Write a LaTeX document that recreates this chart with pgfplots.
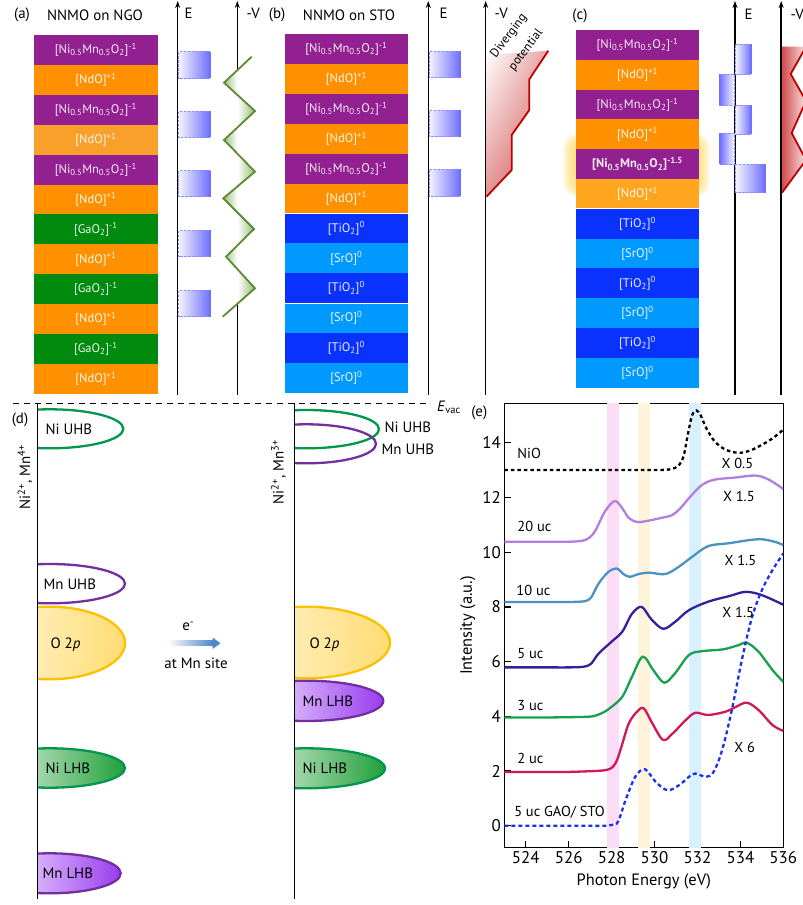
\documentclass[border=0pt]{standalone}
\usepackage{fontspec}
\setmainfont{PT Sans}
\usepackage{pgfplots}
\pgfplotsset{compat=1.18}
\usetikzlibrary{arrows.meta,shadings}

\definecolor{npurple}{HTML}{922090}
\definecolor{norange}{HTML}{FF9100}
\definecolor{norangeL}{HTML}{F9A02A}
\definecolor{norangeG}{HTML}{FFA51E}
\definecolor{ngreen}{HTML}{008A0E}
\definecolor{ntio}{HTML}{0A32FF}
\definecolor{nsro}{HTML}{0099FF}
\definecolor{eboxL}{HTML}{F4F4FF}
\definecolor{eboxR}{HTML}{7070FF}
\definecolor{eboxD}{HTML}{8C8CFF}
\definecolor{zg}{HTML}{5C8A35}
\definecolor{zgf}{HTML}{7FB05A}
\definecolor{rline}{HTML}{C00000}
\definecolor{rfill}{HTML}{D04A4A}
\definecolor{dgreen}{HTML}{00964B}
\definecolor{lgreen}{HTML}{22A03A}
\definecolor{dpurple}{HTML}{7030A0}
\definecolor{lpurple}{HTML}{9A3CF0}
\definecolor{dyellow}{HTML}{FFC000}
\definecolor{arrowblue}{HTML}{4A86C8}
\definecolor{glow}{HTML}{FFD24D}
\definecolor{c20}{HTML}{B07FE0}
\definecolor{c10}{HTML}{4A92C2}
\definecolor{c5}{HTML}{36209A}
\definecolor{c3}{HTML}{16A050}
\definecolor{c2}{HTML}{D0185A}
\definecolor{cgao}{HTML}{1A30F0}
\definecolor{bandpink}{HTML}{FBDDF8}
\definecolor{bandorange}{HTML}{FFF3DC}
\definecolor{bandblue}{HTML}{D9F0FF}

\newcommand{\NNMO}{[Ni\textsubscript{0.5}Mn\textsubscript{0.5}O\textsubscript{2}]\textsuperscript{-1}}
\newcommand{\NNMOb}{\textbf{[Ni\textsubscript{0.5}Mn\textsubscript{0.5}O\textsubscript{2}]\textsuperscript{-1.5}}}
\newcommand{\NdO}{[NdO]\textsuperscript{+1}}
\newcommand{\GaO}{[GaO\textsubscript{2}]\textsuperscript{-1}}
\newcommand{\TiO}{[TiO\textsubscript{2}]\textsuperscript{0}}
\newcommand{\SrO}{[SrO]\textsuperscript{0}}
\newcommand{\labfont}{\fontsize{12.5}{14}\selectfont}
\newcommand{\tfont}{\fontsize{15}{17}\selectfont}
\newcommand{\dfont}{\fontsize{15}{17}\selectfont}

% right box (solid edge at right)
\newcommand{\eboxr}[4]{%
  \shade[left color=eboxL, right color=eboxR] (#1,#3) rectangle (#2,#4);
  \draw[eboxD, line width=0.8bp, dash pattern=on 2.5bp off 1.5bp] (#2,#3) -- (#1,#3) -- (#1,#4) -- (#2,#4);
  \draw[eboxR, line width=1.6bp] (#2,#3) -- (#2,#4);}
% left box (solid edge at left); #1 far-left x, #2 axis x
\newcommand{\eboxl}[4]{%
  \shade[left color=eboxR, right color=eboxL] (#1,#3) rectangle (#2,#4);
  \draw[eboxD, line width=0.8bp, dash pattern=on 2.5bp off 1.5bp] (#1,#3) -- (#2,#3) -- (#2,#4) -- (#1,#4);
  \draw[eboxR, line width=1.6bp] (#1,#3) -- (#1,#4);}

% band ellipse: line x, ytop, ybot, xright, style
\newcommand{\bandE}[5]{%
  \pgfmathsetmacro\cy{(#2+#3)/2}\pgfmathsetmacro\ry{(#3-#2)/2}%
  \pgfmathsetmacro\cx{#1+12}\pgfmathsetmacro\rx{#4-#1-12}%
  \begin{scope}
    \clip (#1,#2-10) rectangle (#4+10,#3+10);
    \path[#5] (\cx,\cy) ellipse [x radius=\rx bp, y radius=\ry bp];
  \end{scope}}

\begin{document}
\begin{tikzpicture}
\begin{scope}[x=1bp,y=-1bp]
\path[use as bounding box] (0,0) rectangle (803,905);

%================ (a) =================
\node[font=\tfont] at (22,15) {(a)};
\node[font=\tfont] at (95,15) {NNMO on NGO};
\foreach \c/\t [count=\i from 0] in {npurple/\NNMO, norange/\NdO, npurple/\NNMO, norangeL/\NdO, npurple/\NNMO, norange/\NdO, ngreen/\GaO, norange/\NdO, ngreen/\GaO, norange/\NdO, ngreen/\GaO, norange/\NdO}{
  \pgfmathsetmacro\yt{35+\i*29.9}
  \fill[\c] (34,\yt) rectangle (157.7,\yt+30.2);
  \node[text=white, opacity=0.92, font=\labfont] at (95.85,\yt+14.95) {\t};
}
\draw[line width=1.5bp, -{Stealth[length=7bp,width=5bp]}] (177.7,395) -- (177.7,1);
\draw[line width=1.5bp, -{Stealth[length=7bp,width=5bp]}] (237.3,395) -- (237.3,1);
\node[font=\tfont, anchor=west] at (181,13) {E};
\node[font=\tfont, anchor=west] at (243,13) {-V};
\eboxr{178.5}{210}{51.7}{78.3}
\eboxr{178.5}{210}{111}{137.3}
\eboxr{178.5}{210}{170.7}{196.7}
\eboxr{178.5}{210}{230}{256.7}
\eboxr{178.5}{210}{290}{316.7}
\begin{scope}
  \clip (237.3,70.2) -- (224,82.7) -- (255,111) -- (224,140) -- (255,171.7) -- (223.3,198.3) -- (254,229) -- (226,256.7) -- (255,288.3) -- (237.3,303.9) -- cycle;
  \shade[left color=zgf, right color=white] (220,50) rectangle (237.3,320);
  \shade[left color=white, right color=zgf] (237.3,50) rectangle (258,320);
\end{scope}
\draw[zg, line width=1.8bp, line join=miter] (251.7,56.7) -- (224,82.7) -- (255,111) -- (224,140) -- (255,171.7) -- (223.3,198.3) -- (254,229) -- (226,256.7) -- (255,288.3) -- (222.7,316.7);

%================ (b) =================
\node[font=\tfont] at (277,15) {(b)};
\node[font=\tfont] at (349,15) {NNMO on STO};
\foreach \c/\t [count=\i from 0] in {npurple/\NNMO, norange/\NdO, npurple/\NNMO, norange/\NdO, npurple/\NNMO, norange/\NdO, ntio/\TiO, nsro/\SrO, ntio/\TiO, nsro/\SrO, ntio/\TiO, nsro/\SrO}{
  \pgfmathsetmacro\yt{34+\i*29.9}
  \fill[\c] (285,\yt) rectangle (407.7,\yt+30.2);
  \node[text=white, opacity=0.92, font=\labfont] at (346.35,\yt+14.95) {\t};
}
\draw[white, line width=1.2bp] (285,213.4) -- (407.7,213.4);
\draw[white, line width=1.2bp] (285,303.1) -- (407.7,303.1);
\draw[line width=1.5bp, -{Stealth[length=7bp,width=5bp]}] (428.3,395) -- (428.3,1);
\draw[line width=1.5bp, -{Stealth[length=7bp,width=5bp]}] (485.7,395) -- (485.7,1);
\node[font=\tfont, anchor=west] at (436,13) {E};
\node[font=\tfont, anchor=west] at (491,13) {-V};
\eboxr{429}{460}{51}{77.7}
\eboxr{429}{460}{110}{136.7}
\eboxr{429}{460}{169.3}{196}
\shade[upper left=white, upper right=rfill!50, lower left=rfill!60, lower right=rfill] (486.5,55) -- (548.3,50.7) -- (529.3,79.3) -- (529.3,110) -- (511.7,135) -- (511.7,170) -- (486.5,196.7) -- cycle;
\draw[rline, line width=1.8bp] (548.3,50.7) -- (529.3,79.3) -- (529.3,110) -- (511.7,135) -- (511.7,170) -- (486.5,196.7);
\node[font=\fontsize{12.5}{14}\selectfont, rotate=53, inner sep=0pt] at (509,36) {Diverging};
\node[font=\fontsize{12.5}{14}\selectfont, rotate=53, inner sep=0pt] at (526,50) {potential};

%================ (c) =================
\node[font=\tfont] at (580,16) {(c)};
\foreach \k in {0,...,7}{
  \fill[glow, opacity=0.13, rounded corners=12bp] (563+\k*1.6,134+\k*1.2) rectangle (710-\k*1.6,196-\k*1.2);
}
\foreach \c/\t [count=\i from 0] in {npurple/\NNMO, norange/\NdO, npurple/\NNMO, norange/\NdO, npurple/\NNMOb, norangeG/\NdO, ntio/\TiO, nsro/\SrO, ntio/\TiO, nsro/\SrO, ntio/\TiO, nsro/\SrO}{
  \pgfmathsetmacro\yt{30+\i*29.8}
  \fill[\c] (576,\yt) rectangle (699,\yt+30.1);
  \node[text=white, opacity=0.92, font=\labfont] at (637.5,\yt+14.9) {\t};
}
\draw[white, line width=1.2bp] (576,208.8) -- (699,208.8);
\draw[line width=1.5bp, -{Stealth[length=7bp,width=5bp]}] (735,395) -- (735,1);
\draw[line width=1.5bp, -{Stealth[length=7bp,width=5bp]}] (781.2,395) -- (781.2,1);
\node[font=\tfont, anchor=west] at (741,14) {E};
\node[font=\tfont, anchor=west] at (787,14) {-V};
\eboxr{735.7}{750.7}{44.3}{74}
\eboxl{719.3}{734.3}{74}{105}
\eboxr{735.7}{750.7}{105}{134.3}
\eboxl{720}{734.3}{133.3}{164.3}
\eboxr{735.7}{765}{164.3}{192.7}
\shade[left color=rfill, right color=rfill!15] (782,46.7) -- (806,46.7) -- (790.7,74) -- (806,101) -- (791.7,133) -- (806,160) -- (782,192.7) -- cycle;
\draw[rline, line width=1.8bp] (806,46.7) -- (790.7,74) -- (806,101) -- (791.7,133) -- (806,160) -- (782,192.7);

%================ (d) =================
\draw[line width=0.9bp, dash pattern=on 6bp off 5bp] (12.7,403.3) -- (428,403.3);
\node[font=\dfont, anchor=west, inner sep=0pt] at (437,407) {\textit{E}\textsubscript{vac}};
\node[font=\tfont] at (20,420) {(d)};
\bandE{37.7}{409.3}{448.3}{123.3}{draw=dgreen, line width=2.3bp, fill=white}
\bandE{37.7}{564}{603.3}{125}{draw=dpurple, line width=2.3bp, fill=white}
\bandE{37.7}{606.7}{679.3}{125}{draw=dyellow, line width=2.3bp, left color=dyellow!12, right color=dyellow!55}
\bandE{37.7}{748.3}{787.7}{125}{draw=dgreen, line width=2.3bp, left color=white, right color=lgreen}
\bandE{37.7}{853.3}{893.3}{120.7}{draw=dpurple, line width=2.3bp, left color=white, right color=lpurple}
\node[font=\dfont, anchor=west] at (42,429) {Ni UHB};
\node[font=\dfont, anchor=west] at (40,584) {Mn UHB};
\node[font=\dfont, anchor=west] at (47,645) {O 2\textit{p}};
\node[font=\dfont, anchor=west] at (42,768) {Ni LHB};
\node[font=\dfont, anchor=west] at (39,873) {Mn LHB};
\draw[line width=1.3bp] (37.7,403.3) -- (37.7,899.3);
\node[font=\dfont, rotate=90] at (25,477) {Ni\textsuperscript{2+}, Mn\textsuperscript{4+}};

\bandE{294.3}{410}{448.3}{379}{draw=dgreen, line width=2.3bp}
\bandE{294.3}{424.3}{463.3}{376}{draw=dpurple, line width=2.3bp}
\bandE{294.3}{606.7}{678.3}{390}{draw=dyellow, line width=2.3bp, left color=dyellow!12, right color=dyellow!55}
\bandE{294.3}{680.7}{721}{383.3}{draw=dpurple, line width=2.3bp, left color=white, right color=lpurple}
\bandE{294.3}{748.3}{788.3}{385}{draw=dgreen, line width=2.3bp, left color=white, right color=lgreen}
\node[font=\dfont, anchor=west] at (381,427) {Ni UHB};
\node[font=\dfont, anchor=west] at (378,449.5) {Mn UHB};
\node[font=\dfont, anchor=west] at (306,645) {O 2\textit{p}};
\node[font=\dfont, anchor=west] at (299,701) {Mn LHB};
\node[font=\dfont, anchor=west] at (299,768) {Ni LHB};
\draw[line width=1.3bp] (294.3,403.3) -- (294.3,899.3);
\node[font=\dfont, rotate=90] at (278.5,472) {Ni\textsuperscript{2+}, Mn\textsuperscript{3+}};

\node[font=\dfont] at (188.3,626) {e\textsuperscript{-}};
\shade[left color=white, right color=arrowblue] (168.3,640.8) rectangle (213,645.8);
\fill[arrowblue] (212.5,637.5) -- (220.5,643.3) -- (212.5,649.1) -- cycle;
\node[font=\dfont] at (196,663.3) {at Mn site};
\node[font=\tfont] at (479.3,413.3) {(e)};
\end{scope}

%================ (e) =================
\begin{axis}[
  at={(504.3bp,-847.7bp)}, anchor=south west,
  scale only axis, width=279bp, height=444.4bp,
  xmin=523, xmax=536, ymin=-0.8, ymax=15.44,
  xtick={524,526,...,536}, ytick={0,2,...,14},
  tick align=inside, xtick pos=bottom, ytick pos=left,
  major tick length=7bp,
  axis line style={line width=1.3bp},
  tick style={line width=1.2bp, black},
  ticklabel style={font=\fontsize{17}{19}\selectfont},
  /pgf/number format/assume math mode=true,
  /pgf/number format/1000 sep={},
  xlabel={Photon Energy (eV)}, ylabel={Intensity (a.u.)},
  label style={font=\fontsize{16.5}{19}\selectfont},
  xlabel style={yshift=-3bp},
  every axis plot/.append style={line width=2.3bp, smooth, tension=0.55, mark=none},
  clip=true,
]
\fill[bandpink] (axis cs:527.8,-0.8) rectangle (axis cs:528.35,15.44);
\fill[bandorange] (axis cs:529.25,-0.8) rectangle (axis cs:529.8,15.44);
\fill[bandblue] (axis cs:531.6,-0.8) rectangle (axis cs:532.15,15.44);

\addplot[black, dash pattern=on 3.5bp off 3bp] coordinates {(523,13.0)(524,13.0)(525,13.0)(526,13.0)(527,13.0)(528,13.0)(529,13.0)(530,13.0)(530.5,13.01)(530.8,13.04)(531.1,13.15)(531.35,13.5)(531.55,14.3)(531.75,15.0)(531.95,15.18)(532.15,15.0)(532.4,14.55)(532.8,14.05)(533.3,13.75)(533.9,13.63)(534.4,13.7)(534.9,13.88)(535.5,14.16)(536,14.48)};
\addplot[c20] coordinates {(523,10.38)(524,10.38)(525,10.38)(525.8,10.38)(526.3,10.39)(526.65,10.42)(526.95,10.52)(527.25,10.8)(527.7,11.5)(528.15,11.87)(528.5,11.6)(528.8,11.25)(529.2,11.1)(529.7,11.15)(530.3,11.25)(530.8,11.35)(531.2,11.6)(531.6,11.97)(532.2,12.45)(532.8,12.65)(533.8,12.73)(534.7,12.8)(535.3,12.66)(536,12.31)};
\addplot[c10] coordinates {(523,8.18)(524,8.18)(525,8.18)(526,8.18)(526.5,8.19)(526.8,8.22)(527.05,8.35)(527.4,8.86)(527.85,9.28)(528.25,9.4)(528.55,9.2)(528.85,9.1)(529.25,9.2)(529.75,9.25)(530.5,9.2)(531.1,9.45)(531.75,9.83)(532.5,10.22)(533.5,10.33)(534.4,10.44)(535.0,10.47)(535.6,10.38)(536,10.26)};
\addplot[c5] coordinates {(523,5.79)(524,5.79)(525,5.79)(526,5.79)(526.5,5.80)(526.8,5.83)(527.05,5.93)(527.4,6.3)(528.0,6.73)(528.5,7.1)(528.95,7.75)(529.4,8.0)(529.85,7.55)(530.4,7.2)(530.95,7.45)(531.6,7.88)(532.5,8.19)(533.5,8.4)(534.25,8.55)(535.0,8.43)(536,8.08)};
\addplot[c3] coordinates {(523,3.96)(524,3.96)(525,3.96)(526,3.97)(526.7,3.98)(527.1,4.0)(527.4,4.07)(527.7,4.18)(528.0,4.35)(528.5,4.72)(528.95,5.45)(529.45,6.18)(529.95,5.68)(530.45,5.23)(530.95,5.57)(531.6,6.24)(532.2,6.38)(533.2,6.45)(533.9,6.6)(534.3,6.69)(534.85,6.36)(535.5,5.69)(536,5.26)};
\addplot[c2] coordinates {(523,1.97)(524,1.97)(525,1.97)(526,1.97)(526.8,1.99)(527.4,2.01)(527.8,2.05)(528.05,2.15)(528.25,2.4)(528.48,2.95)(528.8,3.74)(529.18,4.17)(529.5,4.29)(529.9,3.74)(530.4,3.14)(530.85,3.38)(531.45,3.86)(531.9,4.13)(532.5,4.05)(533.3,4.17)(533.8,4.35)(534.3,4.5)(534.85,4.23)(535.5,3.68)(536,3.47)};
\addplot[cgao, dash pattern=on 4bp off 3bp] coordinates {(523,0)(524,0)(525,0)(526,0)(527,0)(527.6,0.0)(528.0,0.03)(528.3,0.15)(528.65,0.94)(529.1,1.79)(529.55,2.07)(530.05,1.61)(530.6,1.30)(531.15,1.49)(531.6,1.79)(531.9,1.91)(532.4,1.79)(532.75,1.97)(533.15,2.77)(533.6,4.23)(534.1,6.18)(534.55,7.64)(535.0,8.61)(535.5,9.35)(536,9.95)};

\begin{scope}[every node/.style={font=\fontsize{14.5}{16}\selectfont}]
\node[anchor=west] at (axis cs:523.45,13.61) {NiO};
\node[anchor=west] at (axis cs:523.45,10.93) {20 uc};
\node[anchor=west] at (axis cs:523.4,8.61) {10 uc};
\node[anchor=west] at (axis cs:523.45,6.28) {5 uc};
\node[anchor=west] at (axis cs:523.45,4.41) {3 uc};
\node[anchor=west] at (axis cs:523.45,2.46) {2 uc};
\node[anchor=west] at (axis cs:523.3,0.48) {5 uc GAO/ STO};
\node at (axis cs:533.86,13.24) {X 0.5};
\node at (axis cs:533.93,12.05) {X 1.5};
\node at (axis cs:534.0,9.71) {X 1.5};
\node at (axis cs:533.9,7.79) {X 1.5};
\node at (axis cs:534.2,2.86) {X 6};
\end{scope}
\end{axis}
\end{tikzpicture}
\end{document}
